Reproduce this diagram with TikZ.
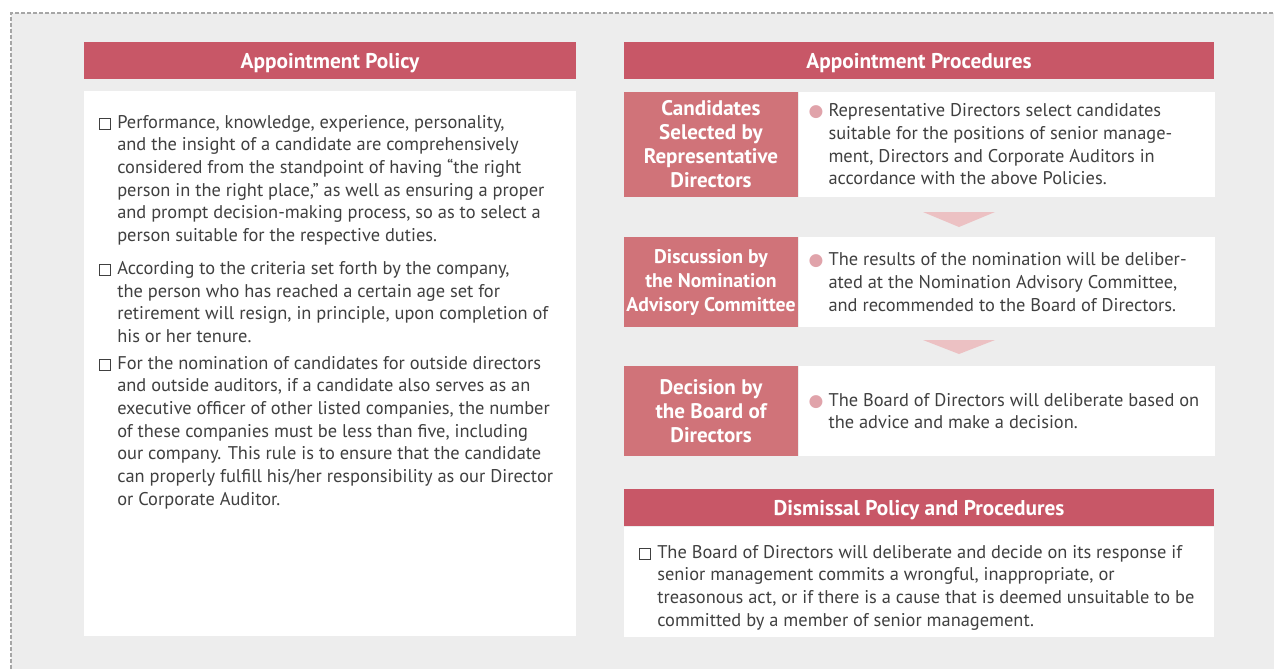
\documentclass[tikz,border=0pt]{standalone}
\usepackage{fontspec}
\setmainfont{PT Sans}
\newfontfamily\symfont{DejaVu Sans}
\usetikzlibrary{positioning}
\definecolor{Rose}{RGB}{200,87,103}
\definecolor{Blush}{RGB}{208,115,121}
\definecolor{Pale}{RGB}{236,193,195}
\definecolor{Dot}{RGB}{224,163,170}
\definecolor{Ink}{RGB}{64,64,64}
\definecolor{Mist}{RGB}{237,237,237}
\definecolor{Dash}{RGB}{166,166,166}
\newcommand\sqbox{\llap{\raisebox{-.06em}{\fboxsep=0pt\fboxrule=.6pt\fbox{\rule{0pt}{.56em}\rule{.56em}{0pt}}}\hspace{4.5pt}}}
\newcommand\dotb{\llap{{\fontsize{12.75}{17}\selectfont\textcolor{Dot}{\symfont ●}}\hspace{3.75pt}}}

\begin{document}
\begin{tikzpicture}[x=.75pt,y=-.75pt,
 hd/.style={fill=Rose,text=white,font=\fontsize{16}{18}\bfseries\selectfont,minimum height=27.75pt,text depth=0pt,inner sep=0},
 lb/.style={fill=Blush,text=white,align=center,font=\fontsize{15.8}{18}\bfseries\selectfont,minimum width=130.5pt,inner sep=0},
 bx/.style={fill=white,minimum width=312pt,inner sep=0},
 tx/.style={text=Ink,align=left,inner sep=0,font=\fontsize{13.8}{17}\selectfont},
 ar/.style={fill=Pale}]
\useasboundingbox (0,0) rectangle (1274,669);
\fill[Mist] (11,13) rectangle (1274,669);
\draw[Dash,line width=.9pt,dash pattern=on 3pt off 1.5pt] (11,669) -- (11,13) -- (1274,13);
% left column
\node[hd,minimum width=369pt] (pol) at (330,60.5) {Appointment Policy};
\node[fill=white,minimum width=369pt,minimum height=408.75pt,inner sep=0] (polb) at (330,363.5) {};
\node[tx,anchor=north west] (i1) at (117,115) {\sqbox Performance, knowledge, experience, personality,\\
and the insight of a candidate are comprehensively\\
considered from the standpoint of having “the right\\
person in the right place,” as well as ensuring a proper\\
and prompt decision-making process, so as to select a\\
person suitable for the respective duties.};
\node[tx,anchor=north west] (i2) at (117,261) {\sqbox According to the criteria set forth by the company,\\
the person who has reached a certain age set for\\
retirement will resign, in principle, upon completion of\\
his or her tenure.};
\node[tx,anchor=north west] (i3) at (117,356) {\sqbox For the nomination of candidates for outside directors\\
and outside auditors, if a candidate also serves as an\\
executive officer of other listed companies, the number\\
of these companies must be less than five, including\\
our company. This rule is to ensure that the candidate\\
can properly fulfill his/her responsibility as our Director\\
or Corporate Auditor.};
% right column
\node[hd,minimum width=442.5pt] (pro) at (919,60.5) {Appointment Procedures};
\node[lb,minimum height=78.75pt] (s1) at (711,144.5) {Candidates\\Selected by\\Representative\\Directors};
\node[bx,minimum height=78.75pt,right=0pt of s1] (s1b) {};
\node[tx,right=22.5pt of s1b.west] (t1) {\dotb Representative Directors select candidates\\
suitable for the positions of senior manage-\\
ment, Directors and Corporate Auditors in\\
accordance with the above Policies.};
\node[lb,minimum height=67.5pt,font=\fontsize{14.8}{18}\bfseries\selectfont] (s2) at (711,282) {Discussion by\\the Nomination\\Advisory Committee};
\node[bx,minimum height=67.5pt,right=0pt of s2] (s2b) {};
\node[tx,right=22.5pt of s2b.west] (t2) {\dotb The results of the nomination will be deliber-\\
ated at the Nomination Advisory Committee,\\
and recommended to the Board of Directors.};
\node[lb,minimum height=67.5pt] (s3) at (711,411) {Decision by\\the Board of\\Directors};
\node[bx,minimum height=67.5pt,right=0pt of s3] (s3b) {};
\node[tx,right=22.5pt of s3b.west] (t3) {\dotb The Board of Directors will deliberate based on\\
the advice and make a decision.};
\fill[ar] (923,212) -- (995,212) -- (959,227) -- cycle;
\fill[ar] (923,340) -- (995,340) -- (959,354) -- cycle;
% dismissal
\node[hd,minimum width=442.5pt] (dis) at (919,507.5) {Dismissal Policy and Procedures};
\node[fill=white,minimum width=442.5pt,minimum height=82.5pt,inner sep=0,below=0pt of dis] (disb) {};
\node[tx,anchor=north west] (d1) at (657,545) {\sqbox The Board of Directors will deliberate and decide on its response if\\
senior management commits a wrongful, inappropriate, or\\
treasonous act, or if there is a cause that is deemed unsuitable to be\\
committed by a member of senior management.};
\end{tikzpicture}
\end{document}
